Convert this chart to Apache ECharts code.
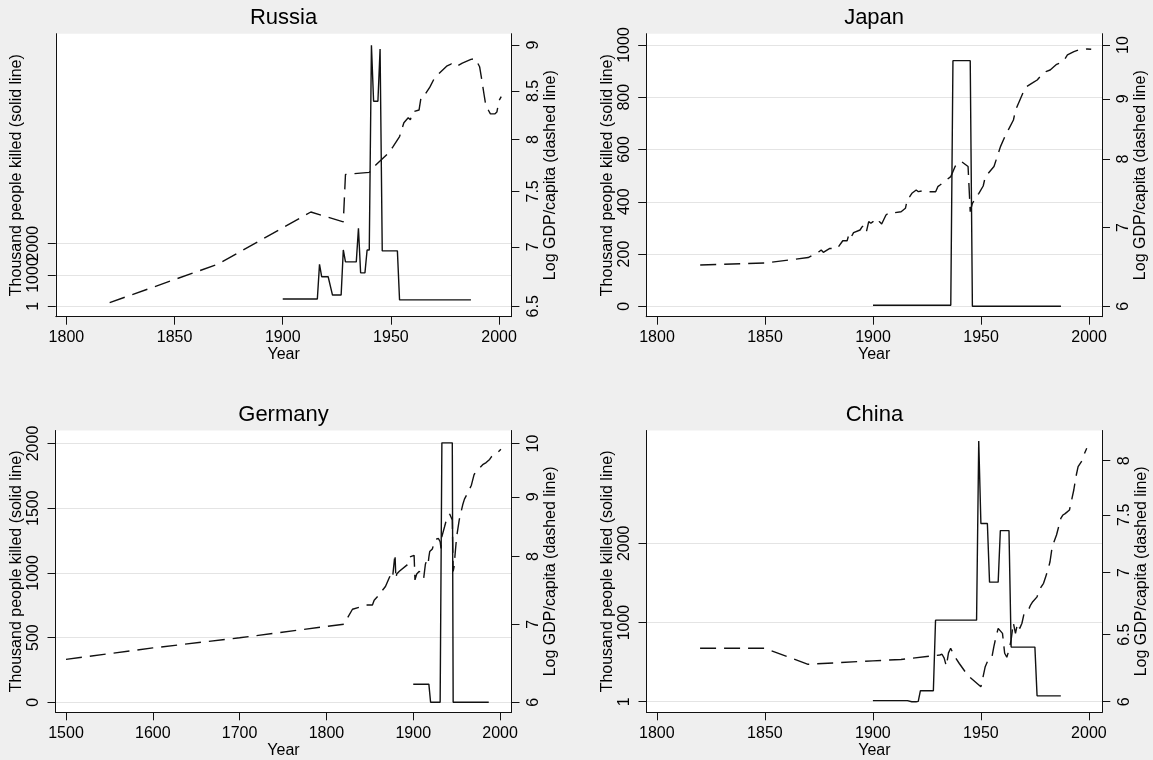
<!DOCTYPE html>
<html>
<head>
<meta charset="utf-8">
<script src="https://cdn.jsdelivr.net/npm/echarts@6/dist/echarts.min.js"></script>
<style>
html,body{margin:0;padding:0;background:#efefef;}
#chart{width:1153px;height:760px;}
</style>
</head>
<body>
<div id="chart"></div>
<script>
// ---------------- DATA ----------------
const panelTitles = ['Russia', 'Japan', 'Germany', 'China'];

// Russia
const russiaKilledYears = [1900,1916,1917,1918,1921,1923,1927,1928,1929,1934,1935,1936,1938,1939,1940,1941,1942,1944,1945,1946,1953,1954,1987];
const russiaKilled      = [235,235,1340,945,945,360,360,1800,1420,1420,2490,1070,1070,1800,1800,8340,6550,6550,8220,1770,1770,205,205];
const russiaGdpYears = [1820,1870,1913,1928,1929,1940,1943,1949,1951,1954,1956,1958,1959,1960,1963,1964,1966,1968,1970,1972,1976,1978,1980,1983,1987,1989,1991,1992,1993,1994,1995,1996,1998,1999,2000,2001];
const russiaGdp      = [6.53,6.85,7.31,7.22,7.66,7.68,7.75,7.87,7.93,8.03,8.17,8.22,8.20,8.28,8.30,8.44,8.47,8.54,8.63,8.68,8.77,8.79,8.76,8.80,8.84,8.85,8.76,8.62,8.47,8.33,8.30,8.26,8.26,8.28,8.40,8.44];

// Japan
const japanKilledYears = [1900,1936,1937,1945,1946,1987];
const japanKilled      = [4,4,940,940,0,0];
const japanGdpYears = [1820,1850,1870,1875,1876,1877,1880,1883,1884,1886,1888,1889,1890,1891,1894,1895,1896,1897,1898,1899,1900,1901,1903,1904,1906,1907,1908,1910,1913,1915,1916,1917,1918,1920,1921,1923,1926,1929,1930,1931,1933,1936,1938,1939,1941,1944,1945,1946,1948,1949,1951,1952,1956,1958,1959,1961,1963,1965,1966,1968,1970,1971,1974,1976,1978,1980,1982,1985,1988,1989,1990,1993,1995,1999,2001];
const japanGdp      = [6.505,6.53,6.60,6.676,6.698,6.668,6.72,6.71,6.74,6.82,6.82,6.92,6.875,6.93,6.965,7.01,7.034,6.95,7.08,7.057,7.08,7.034,7.08,7.047,7.173,7.196,7.186,7.205,7.219,7.267,7.41,7.434,7.483,7.532,7.507,7.52,7.507,7.507,7.581,7.605,7.656,7.731,7.886,7.935,7.961,7.886,7.219,7.338,7.434,7.483,7.591,7.731,7.886,8.092,8.198,8.359,8.497,8.636,8.807,8.981,9.158,9.218,9.29,9.339,9.431,9.492,9.523,9.63,9.679,9.743,9.807,9.871,9.903,9.922,9.916];

// Germany
const germanyKilledYears = [1900,1918,1920,1931,1933,1945,1946,1987];
const germanyKilled      = [140,140,0,0,2005,2005,0,0];
const germanyGdpYears = [1500,1600,1700,1820,1830,1841,1847,1853,1855,1861,1863,1868,1870,1873,1876,1878,1879,1880,1881,1884,1886,1893,1897,1901,1902,1904,1907,1912,1914,1915,1917,1918,1919,1922,1924,1926,1929,1931,1932,1933,1936,1938,1940,1942,1944,1945,1946,1947,1949,1950,1953,1957,1959,1964,1967,1970,1972,1977,1980,1984,1988,1990,1997,2001];
const germanyGdp      = [6.53,6.68,6.815,7.00,7.21,7.25,7.27,7.27,7.34,7.42,7.46,7.54,7.55,7.69,7.65,7.64,8.04,7.66,7.73,7.77,7.79,7.87,8.00,8.02,7.64,7.73,7.77,7.66,7.88,7.92,7.87,7.99,8.08,8.12,8.22,8.28,8.29,8.24,8.13,8.32,8.48,8.59,8.65,8.70,8.72,8.60,7.77,7.84,8.16,8.32,8.60,8.86,8.96,9.11,9.21,9.40,9.46,9.54,9.59,9.63,9.69,9.74,9.82,9.885];

// China
const chinaKilledYears = [1900,1916,1918,1920,1921,1922,1928,1929,1948,1949,1950,1953,1954,1958,1959,1963,1964,1975,1976,1987];
const chinaKilled      = [15,15,0,0,5,140,140,1030,1030,3290,2250,2250,1510,1510,2160,2160,690,690,75,75];
const chinaGdpYears = [1820,1850,1870,1900,1913,1929,1931,1932,1933,1934,1935,1936,1937,1938,1940,1944,1950,1951,1952,1953,1955,1956,1957,1958,1960,1961,1962,1963,1964,1965,1966,1967,1968,1969,1970,1972,1973,1974,1976,1977,1979,1980,1981,1982,1983,1985,1986,1987,1988,1989,1991,1992,1993,1994,1995,1997,1998,1999];
const chinaGdp      = [6.395,6.395,6.274,6.30,6.31,6.34,6.344,6.35,6.32,6.26,6.36,6.395,6.36,6.33,6.28,6.19,6.108,6.18,6.256,6.293,6.319,6.407,6.484,6.549,6.51,6.357,6.327,6.382,6.459,6.593,6.51,6.589,6.549,6.589,6.668,6.694,6.734,6.761,6.80,6.856,6.911,6.965,7.021,7.091,7.219,7.321,7.394,7.468,7.498,7.51,7.543,7.633,7.725,7.849,7.943,8.007,8.071,8.119];

// Tick values / labels
const yearTicks1800 = [1800,1850,1900,1950,2000];
const yearTicks1500 = [1500,1600,1700,1800,1900,2000];
const russiaKilledTicks = [1,1000,2000];
const japanKilledTicks = [0,200,400,600,800,1000];
const germanyKilledTicks = [0,500,1000,1500,2000];
const chinaKilledTicks = [1,1000,2000];
const russiaGdpTicks = [6.5,7,7.5,8,8.5,9];
const japanGdpTicks = [6,7,8,9,10];
const germanyGdpTicks = [6,7,8,9,10];
const chinaGdpTicks = [6,6.5,7,7.5,8];

// ---------------- LAYOUT / STYLE ----------------
const FONT = '"Liberation Sans", Arial, Helvetica, sans-serif';
const INK = '#111111';
const GRIDLINE = '#e4e4e4';

const zip = (xs, ys) => xs.map((x, i) => [x, ys[i]]);

const panels = [
  { title: panelTitles[0], box: {left: 55.8, top: 33.7, width: 455.6, height: 283},
    x: {min: 1795.1, max: 2005.7, ticks: yearTicks1800},
    l: {min: -331, max: 8706, ticks: russiaKilledTicks, labels: [1, 1000], extraLabels: [2000]},
    r: {min: 6.4164, max: 9.1276, ticks: russiaGdpTicks},
    killed: zip(russiaKilledYears, russiaKilled), gdp: zip(russiaGdpYears, russiaGdp) },
  { title: panelTitles[1], box: {left: 646.2, top: 33.7, width: 455.8, height: 283},
    x: {min: 1795.0, max: 2006.0, ticks: yearTicks1800},
    l: {min: -39.8, max: 1043.2, ticks: japanKilledTicks, labels: japanKilledTicks},
    r: {min: 5.8792, max: 10.2233, ticks: japanGdpTicks},
    killed: zip(japanKilledYears, japanKilled), gdp: zip(japanGdpYears, japanGdp) },
  { title: panelTitles[2], box: {left: 55.5, top: 430.5, width: 456, height: 281.8},
    x: {min: 1487.9, max: 2013.2, ticks: yearTicks1500},
    l: {min: -77.3, max: 2100.5, ticks: germanyKilledTicks, labels: germanyKilledTicks},
    r: {min: 5.8828, max: 10.26, ticks: germanyGdpTicks},
    killed: zip(germanyKilledYears, germanyKilled), gdp: zip(germanyGdpYears, germanyGdp) },
  { title: panelTitles[3], box: {left: 646.5, top: 430.5, width: 455.8, height: 281.8},
    x: {min: 1795.2, max: 2006.2, ticks: yearTicks1800},
    l: {min: -132.8, max: 3423.5, ticks: chinaKilledTicks, labels: chinaKilledTicks},
    r: {min: 5.9246, max: 8.2937, ticks: chinaGdpTicks},
    killed: zip(chinaKilledYears, chinaKilled), gdp: zip(chinaGdpYears, chinaGdp) }
];

const txt = (size) => ({ fontSize: size, color: '#000', fontFamily: FONT, fontWeight: 'normal' });
const fmt = v => String(Math.round(v * 10) / 10);

const option = {
  backgroundColor: '#efefef',
  animation: false,
  title: [], grid: [], xAxis: [], yAxis: [], series: []
};

panels.forEach((p, i) => {
  option.title.push({
    text: p.title, left: p.box.left + p.box.width / 2, top: p.box.top - 26.5,
    textAlign: 'center', padding: 0, textStyle: txt(22)
  });
  option.grid.push(Object.assign({}, p.box, {
    show: true, backgroundColor: '#ffffff', borderWidth: 0,
    containLabel: false, outerBoundsMode: 'none'
  }));
  option.xAxis.push({
    gridIndex: i, type: 'value', min: p.x.min, max: p.x.max,
    axisLine: { show: true, onZero: false, lineStyle: { color: INK, width: 1 } },
    axisTick: { show: true, length: 8, customValues: p.x.ticks, lineStyle: { color: INK, width: 1 } },
    axisLabel: { show: true, customValues: p.x.ticks, margin: 13, ...txt(16), formatter: v => String(v) },
    splitLine: { show: false },
    name: 'Year', nameLocation: 'middle', nameGap: 28.5, nameTextStyle: txt(16)
  });
  const li = option.yAxis.length;
  option.yAxis.push({
    gridIndex: i, type: 'value', position: 'left', min: p.l.min, max: p.l.max,
    axisLine: { show: true, onZero: false, lineStyle: { color: INK, width: 1 } },
    axisTick: { show: true, length: 8, customValues: p.l.ticks, lineStyle: { color: INK, width: 1 } },
    axisLabel: { show: true, customValues: p.l.labels, rotate: 90, margin: 14, ...txt(16), formatter: v => String(v) },
    splitLine: { show: true, lineStyle: { color: GRIDLINE, width: 1 } },
    name: 'Thousand people killed (solid line)', nameLocation: 'middle', nameGap: 29.5, nameTextStyle: txt(16)
  });
  const ri = option.yAxis.length;
  option.yAxis.push({
    gridIndex: i, type: 'log', logBase: 10, position: 'right', min: p.r.min, max: p.r.max,
    axisLine: { show: true, onZero: false, lineStyle: { color: INK, width: 1 } },
    axisTick: { show: true, length: 8, customValues: p.r.ticks, lineStyle: { color: INK, width: 1 } },
    axisLabel: { show: true, customValues: p.r.ticks, rotate: 90, margin: 14, ...txt(16), formatter: fmt },
    splitLine: { show: false },
    name: 'Log GDP/capita (dashed line)', nameLocation: 'middle', nameGap: 30, nameTextStyle: txt(16)
  });
  if (p.l.extraLabels) {
    option.yAxis.push({
      gridIndex: i, type: 'value', position: 'left', min: p.l.min, max: p.l.max,
      axisLine: { show: false, onZero: false }, axisTick: { show: false }, splitLine: { show: false },
      axisLabel: { show: true, customValues: p.l.extraLabels, rotate: 90, margin: 14, ...txt(16), formatter: v => String(v) }
    });
  }
  option.series.push({
    type: 'line', xAxisIndex: i, yAxisIndex: li, data: p.killed,
    symbol: 'none', showSymbol: false, silent: true,
    lineStyle: { color: INK, width: 1.4, type: 'solid' }
  });
  option.series.push({
    type: 'line', xAxisIndex: i, yAxisIndex: ri, data: p.gdp,
    symbol: 'none', showSymbol: false, silent: true,
    lineStyle: { color: INK, width: 1.4, type: [16, 8] }
  });
});

const chart = echarts.init(document.getElementById('chart'), null, { renderer: 'canvas' });
chart.setOption(option);
</script>
</body>
</html>
